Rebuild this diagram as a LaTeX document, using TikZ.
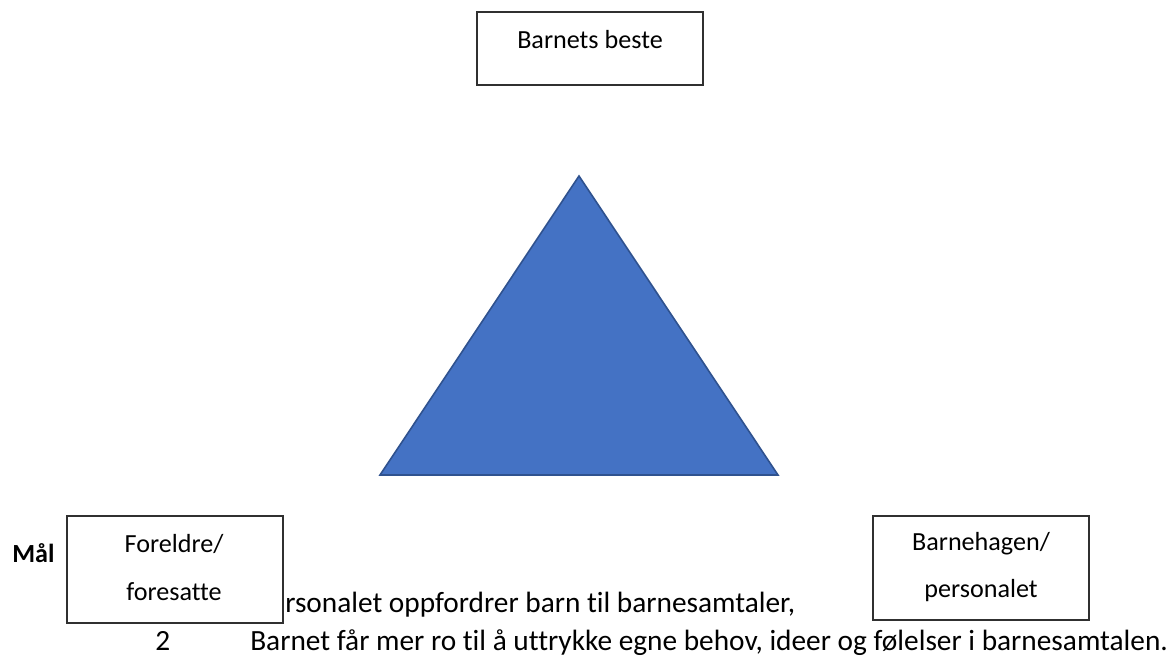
\documentclass[tikz,border=0pt]{standalone}
\usepackage{fontspec}
\setmainfont{Carlito}[Ligatures={NoCommon}]
\definecolor{triblue}{HTML}{4472C4}
\definecolor{triedge}{HTML}{2F528F}
\definecolor{boxedge}{HTML}{303030}
\begin{document}
\begin{tikzpicture}[x=0.75pt,y=-0.75pt,
  box/.style={draw=boxedge,line width=0.9pt,fill=white,inner sep=0pt},
  txt/.style={inner sep=0pt,font=\fontsize{19.6pt}{23pt}\selectfont},
  bigtxt/.style={inner sep=0pt,anchor=base west,font=\fontsize{22pt}{26pt}\selectfont},
  btxt/.style={txt,anchor=base},
  ltxt/.style={txt,anchor=base west}]
\useasboundingbox (0,0) rectangle (1176,662);
% triangle
\coordinate (apex) at (579,176);
\coordinate (bl) at (380,475);
\coordinate (br) at (778,475);
\draw[fill=triblue,draw=triedge,line width=1.2pt,line join=miter] (apex) -- (bl) -- (br) -- cycle;
% boxes
\node[box,minimum width=169.5pt,minimum height=54.75pt] (top) at (590,48.5) {};
\node[box,minimum width=162pt,minimum height=80.25pt] (left) at (175,569.5) {};
\node[box,minimum width=162pt,minimum height=78pt] (right) at (981,568) {};
% box texts
\node[btxt] (topt) at (590,48) {Barnets beste};
\node[btxt] (l1) at (174,552) {Foreldre/};
\node[btxt] (l2) at (174,600) {foresatte};
\node[btxt] (r1) at (981,550) {Barnehagen/};
\node[btxt] (r2) at (981,597) {personalet};
% outside texts
\node[ltxt,font=\fontsize{19.6pt}{23pt}\selectfont\bfseries] (mal) at (12,562) {Mål};
\node[bigtxt] (line1) at (285,612) {rsonalet oppfordrer barn til barnesamtaler,};
\node[bigtxt] (two) at (155,650) {2};
\node[bigtxt] (line2) at (250,650) {Barnet får mer ro til å uttrykke egne behov, ideer og følelser i barnesamtalen.};
\end{tikzpicture}
\end{document}
